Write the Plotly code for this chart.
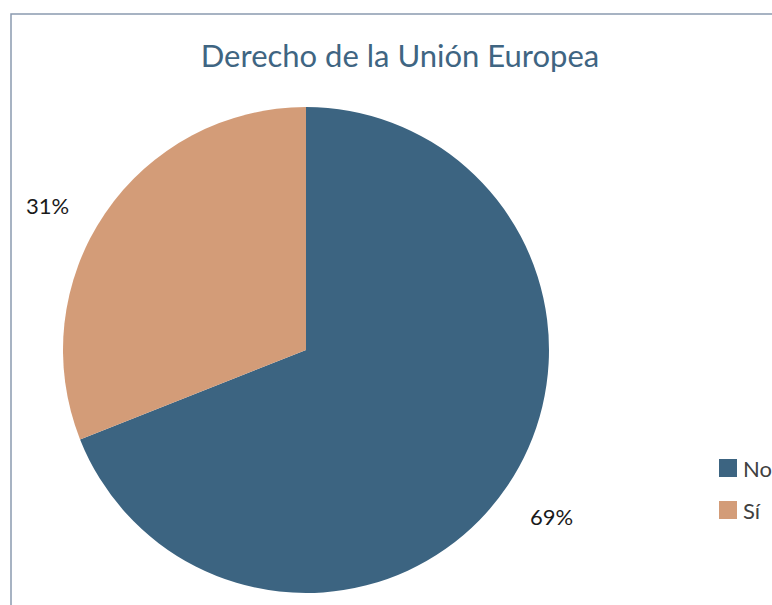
import math
import plotly.graph_objects as go

# ---- data ----
categories = ["No", "Sí"]
values = [69, 31]
colors = ["#3c6481", "#d39c78"]
title_text = "Derecho de la Unión Europea"

W, H = 772, 605

# pie geometry (pixels)
cx, cy, r = 306, 350, 243
dom_x = [(cx - r) / W, (cx + r) / W]
dom_y = [1 - (cy + r) / H, 1 - (cy - r) / H]

fig = go.Figure()
fig.add_trace(go.Pie(
    labels=categories,
    values=values,
    marker=dict(colors=colors, line=dict(width=0)),
    sort=False,
    direction="clockwise",
    rotation=0,
    textinfo="none",
    hoverinfo="label+percent",
    domain=dict(x=dom_x, y=dom_y),
    showlegend=False,
))

# percentage labels placed around the pie, from the data
total = sum(values)
annotations = []
acc = 0
label_factor = 1.22
label_nudge = [(0, 0), (-13, 22)]  # small pixel adjustments (style)
for v, (nx, ny) in zip(values, label_nudge):
    mid = (acc + v / 2) / total * 2 * math.pi
    acc += v
    px = cx + label_factor * r * math.sin(mid) + nx
    py = cy - label_factor * r * math.cos(mid) + ny
    annotations.append(dict(
        x=px / W, y=1 - py / H, xref="paper", yref="paper",
        text=f"{round(v / total * 100)}%", showarrow=False,
        xanchor="center", yanchor="middle",
        font=dict(family="Lato", size=22, color="#1a1a1a"),
    ))

# custom legend
shapes = []
leg_x0, leg_y0, leg_step, sq = 719, 459, 42, 18
for i, (cat, col) in enumerate(zip(categories, colors)):
    y0 = leg_y0 + i * leg_step
    shapes.append(dict(
        type="rect", xref="paper", yref="paper",
        x0=leg_x0 / W, x1=(leg_x0 + sq) / W,
        y0=1 - (y0 + sq) / H, y1=1 - y0 / H,
        fillcolor=col, line=dict(width=0),
    ))
    annotations.append(dict(
        x=(leg_x0 + sq + 4) / W, y=1 - (y0 + sq / 2) / H,
        xref="paper", yref="paper", text=cat, showarrow=False,
        xanchor="left", yanchor="middle",
        font=dict(family="Lato", size=22, color="#404040"),
    ))

# frame border
shapes.append(dict(
    type="rect", xref="paper", yref="paper",
    x0=11 / W, x1=1.2, y0=-0.2, y1=1 - 14 / H,
    line=dict(color="#8a9ab0", width=1.5), fillcolor="rgba(0,0,0,0)",
    layer="below",
))

fig.update_layout(
    width=W, height=H,
    margin=dict(l=0, r=0, t=0, b=0),
    paper_bgcolor="white",
    plot_bgcolor="white",
    title=dict(
        text=title_text, x=400 / W, xanchor="center",
        y=1 - 56 / H, yanchor="middle",
        font=dict(family="Lato", size=31, color="#3f6582"),
    ),
    annotations=annotations,
    shapes=shapes,
)

fig.write_html("out.html")
